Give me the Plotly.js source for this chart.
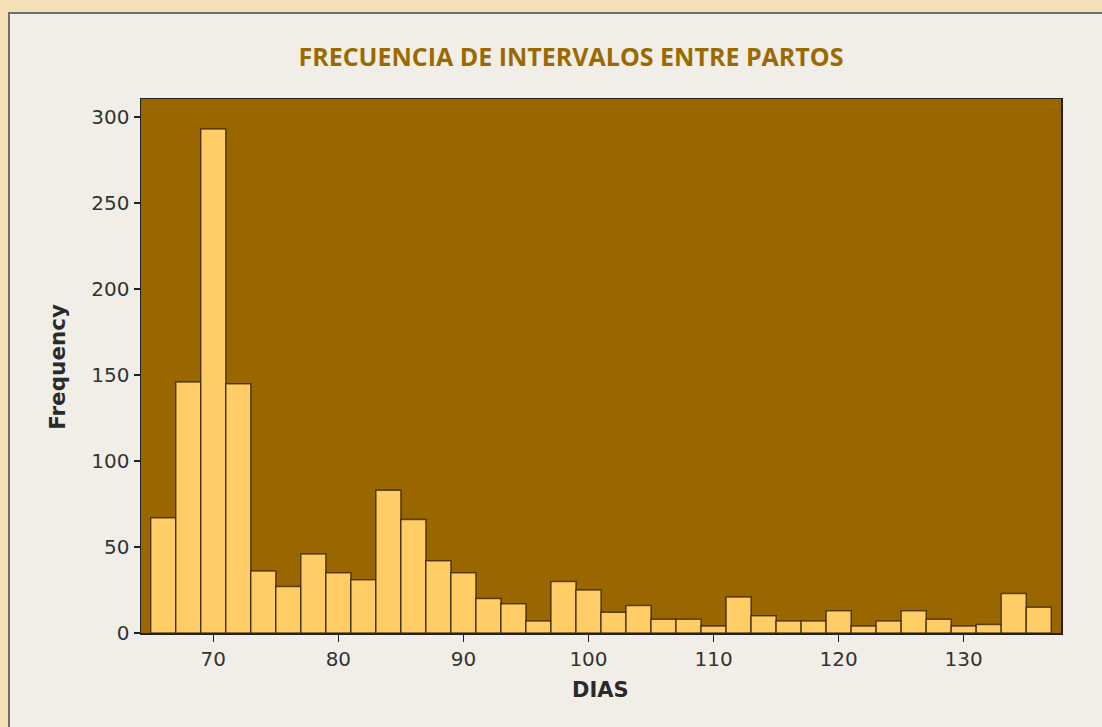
<!DOCTYPE html>
<html>
<head>
<meta charset="utf-8">
<script src="https://cdn.plot.ly/plotly-3.0.1.min.js"></script>
<style>
  html, body { margin: 0; padding: 0; width: 1102px; height: 727px; overflow: hidden; background: #F3E0B6; }
  #panel { position: absolute; left: 8px; top: 12px; width: 1094px; height: 715px;
           border-left: 2px solid #6f6f6f; border-top: 2px solid #6f6f6f; background: #F1EEE7; }
  #chart { width: 1092px; height: 713px; }
</style>
</head>
<body>
<div id="panel"><div id="chart"></div></div>
<script>
// Bin centres (DIAS), bin width 2 days
const dias = [66, 68, 70, 72, 74, 76, 78, 80, 82, 84, 86, 88, 90, 92, 94, 96, 98, 100,
              102, 104, 106, 108, 110, 112, 114, 116, 118, 120, 122, 124, 126, 128, 130, 132, 134, 136];
// Frequency of each bin
const frecuencia = [67, 146, 293, 145, 36, 27, 46, 35, 31, 83, 66, 42, 35, 20, 17, 7, 30, 25,
                    12, 16, 8, 8, 4, 21, 10, 7, 7, 13, 4, 7, 13, 8, 4, 5, 23, 15];
const xTicks = [70, 80, 90, 100, 110, 120, 130];
const yTicks = [0, 50, 100, 150, 200, 250, 300];
const titulo = "FRECUENCIA DE INTERVALOS ENTRE PARTOS";
const xTitulo = "DIAS";
const yTitulo = "Frequency";

const trace = {
  type: "bar",
  x: dias,
  y: frecuencia,
  width: 2,
  marker: { color: "#FFCC66", line: { color: "rgba(25,15,0,0.65)", width: 1.5 } },
  hoverinfo: "x+y"
};

const layout = {
  width: 1092, height: 713,
  margin: { l: 131, r: 41, t: 85, b: 94 },
  paper_bgcolor: "#F1EEE7",
  plot_bgcolor: "#996600",
  showlegend: false,
  bargap: 0,
  title: {
    text: "<b>" + titulo + "</b>",
    x: 0.5137, xanchor: "center", xref: "container",
    y: 0.94, yanchor: "middle", yref: "container",
    font: { family: "Open Sans", size: 25, color: "#9A6A00" }
  },
  xaxis: {
    range: [64.22, 137.78],
    tickvals: xTicks, ticktext: xTicks.map(String),
    ticks: "outside", ticklen: 7, tickwidth: 1.5, tickcolor: "#222",
    showline: true, linecolor: "#222", linewidth: 1.5, mirror: true,
    showgrid: false, zeroline: false,
    tickfont: { family: "DejaVu Sans", size: 20, color: "#333" }
  },
  yaxis: {
    range: [0, 310.5],
    tickvals: yTicks, ticktext: yTicks.map(String),
    ticks: "outside", ticklen: 6, tickwidth: 1.5, tickcolor: "#222",
    showline: true, linecolor: "#222", linewidth: 1.5, mirror: true,
    showgrid: false, zeroline: false,
    tickfont: { family: "DejaVu Sans", size: 20, color: "#333" }
  },
  annotations: [
    { text: "<b>" + xTitulo + "</b>", xref: "paper", yref: "paper",
      x: 0.4995, y: -0.107, xanchor: "center", yanchor: "middle", showarrow: false,
      font: { family: "DejaVu Sans", size: 21, color: "#2a2a2a" } },
    { text: "<b>" + yTitulo + "</b>", xref: "paper", yref: "paper",
      x: -0.091, y: 0.499, xanchor: "center", yanchor: "middle", showarrow: false, textangle: -90,
      font: { family: "DejaVu Sans", size: 21.5, color: "#2a2a2a" } }
  ]
};

Plotly.newPlot("chart", [trace], layout, { displayModeBar: false, staticPlot: true });
</script>
</body>
</html>
